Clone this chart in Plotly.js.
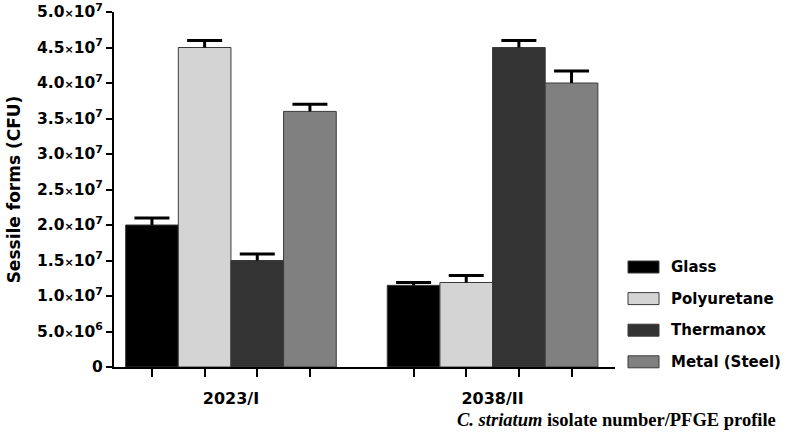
<!DOCTYPE html>
<html>
<head>
<meta charset="utf-8">
<script src="https://cdn.plot.ly/plotly-3.0.1.min.js"></script>
<style>html,body{margin:0;padding:0;background:#fff;}#chart{width:787px;height:436px;}</style>
</head>
<body>
<div id="chart"></div>
<script>
// ---- data ----
const categories = ['2023/I', '2038/II'];
const seriesNames = ['Glass', 'Polyuretane', 'Thermanox', 'Metal (Steel)'];
const glass = [2.0e7, 1.15e7];
const glassErr = [0.1e7, 0.04e7];
const polyuretane = [4.5e7, 1.19e7];
const polyuretaneErr = [0.1e7, 0.1e7];
const thermanox = [1.5e7, 4.5e7];
const thermanoxErr = [0.09e7, 0.1e7];
const metal = [3.6e7, 4.0e7];
const metalErr = [0.1e7, 0.17e7];
const yTickVals = [0, 5e6, 1e7, 1.5e7, 2e7, 2.5e7, 3e7, 3.5e7, 4e7, 4.5e7, 5e7];
const yTickMantissa = ['0', '5.0', '1.0', '1.5', '2.0', '2.5', '3.0', '3.5', '4.0', '4.5', '5.0'];
const yTickExponent = ['', '6', '7', '7', '7', '7', '7', '7', '7', '7', '7'];
const yTitle = 'Sessile forms (CFU)';
const xTitle = '<i>C. striatum</i> isolate number/PFGE profile';

// ---- style ----
const colors = ['#000000', '#d4d4d4', '#333333', '#808080'];
const outline = '#3a3a3a';
const FAM = 'DejaVu Sans, Arial, sans-serif';
const tickBold = {family: FAM, size: 16, color: '#000', weight: 'bold'};
const legendBold = {family: FAM, size: 15, color: '#000', weight: 'bold'};
const bargap = 0.195;

const values = [glass, polyuretane, thermanox, metal];
const errors = [glassErr, polyuretaneErr, thermanoxErr, metalErr];

const yTickText = yTickMantissa.map((m, i) => yTickExponent[i] ?
  m + '<span style="font-size:11px">×</span>10<sup>' + yTickExponent[i] + '</sup>' : m);

const traces = seriesNames.map((name, k) => ({
  type: 'bar',
  name: name,
  x: categories,
  y: values[k],
  marker: {color: colors[k], line: {color: outline, width: 1}},
  showlegend: false,
  hoverinfo: 'skip'
}));

// bar centres (in category units) for the upward error bars and the tick marks
const nS = seriesNames.length;
const bw = (1 - bargap) / nS;
const barCenters = [];
const stemX = [], stemY = [], capX = [], capY = [];
categories.forEach((c, i) => {
  for (let k = 0; k < nS; k++) {
    const cx = i - (1 - bargap) / 2 + bw * (k + 0.5);
    barCenters.push(cx);
    const v = values[k][i], e = errors[k][i];
    stemX.push(cx, cx, null);
    stemY.push(v, v + e, null);
    capX.push(cx);
    capY.push(v + e);
  }
});
traces.push({type: 'scatter', mode: 'lines', x: stemX, y: stemY, xaxis: 'x2', yaxis: 'y',
  line: {color: '#000', width: 3}, showlegend: false, hoverinfo: 'skip', connectgaps: false});
traces.push({type: 'scatter', mode: 'markers', x: capX, y: capY, xaxis: 'x2', yaxis: 'y',
  marker: {symbol: 'line-ew', size: 25, color: '#000', line: {color: '#000', width: 3}},
  showlegend: false, hoverinfo: 'skip'});

const M = {l: 114, r: 172, t: 12, b: 69};
const W = 787, H = 436;
const pw = W - M.l - M.r, ph = H - M.t - M.b;
const px2x = p => (p - M.l) / pw;
const px2y = p => (H - M.b - p) / ph;

const xRange = [-0.447, 1.468];

const shapes = [];
const annotations = [];
seriesNames.forEach((name, k) => {
  const cy = 267 + k * 31.6;
  shapes.push({type: 'rect', xref: 'paper', yref: 'paper',
    x0: px2x(628), x1: px2x(659), y0: px2y(cy + 6), y1: px2y(cy - 6),
    fillcolor: colors[k], line: {color: outline, width: 1}});
  annotations.push({xref: 'paper', yref: 'paper', x: px2x(669), y: px2y(cy),
    xanchor: 'left', yanchor: 'middle', text: name, showarrow: false, font: legendBold});
});
annotations.push({xref: 'paper', yref: 'paper', x: px2x(455), y: px2y(420),
  xanchor: 'left', yanchor: 'middle', text: xTitle, showarrow: false,
  font: {family: 'Liberation Serif, Times New Roman, serif', size: 18.5, color: '#000', weight: 'bold'}});

const layout = {
  width: W, height: H,
  margin: M,
  paper_bgcolor: '#fff', plot_bgcolor: '#fff',
  barmode: 'group', bargap: bargap, bargroupgap: 0,
  showlegend: false,
  xaxis: {
    type: 'category', range: xRange, showline: true, linewidth: 2, linecolor: '#000',
    ticks: 'outside', ticklen: 16, tickcolor: 'rgba(0,0,0,0)', tickfont: tickBold,
    showgrid: false, zeroline: false, fixedrange: true
  },
  xaxis2: {
    type: 'linear', overlaying: 'x', anchor: 'y', side: 'bottom', range: xRange,
    tickmode: 'array', tickvals: barCenters, ticks: 'outside', ticklen: 9, tickwidth: 2,
    tickcolor: '#000', showticklabels: false, showline: false, showgrid: false, zeroline: false
  },
  yaxis: {
    range: [0, 5e7], tickmode: 'array', tickvals: yTickVals, ticktext: yTickText,
    showline: true, linewidth: 2, linecolor: '#000', ticks: 'outside', ticklen: 6, tickwidth: 2,
    tickcolor: '#000', tickfont: {family: FAM, size: 15.5, color: '#000', weight: 'bold'},
    showgrid: false, zeroline: false,
    title: {text: yTitle, standoff: 12, font: {family: FAM, size: 17, color: '#000', weight: 'bold'}}
  },
  shapes: shapes,
  annotations: annotations
};

Plotly.newPlot('chart', traces, layout, {displayModeBar: false, staticPlot: true});
</script>
</body>
</html>
